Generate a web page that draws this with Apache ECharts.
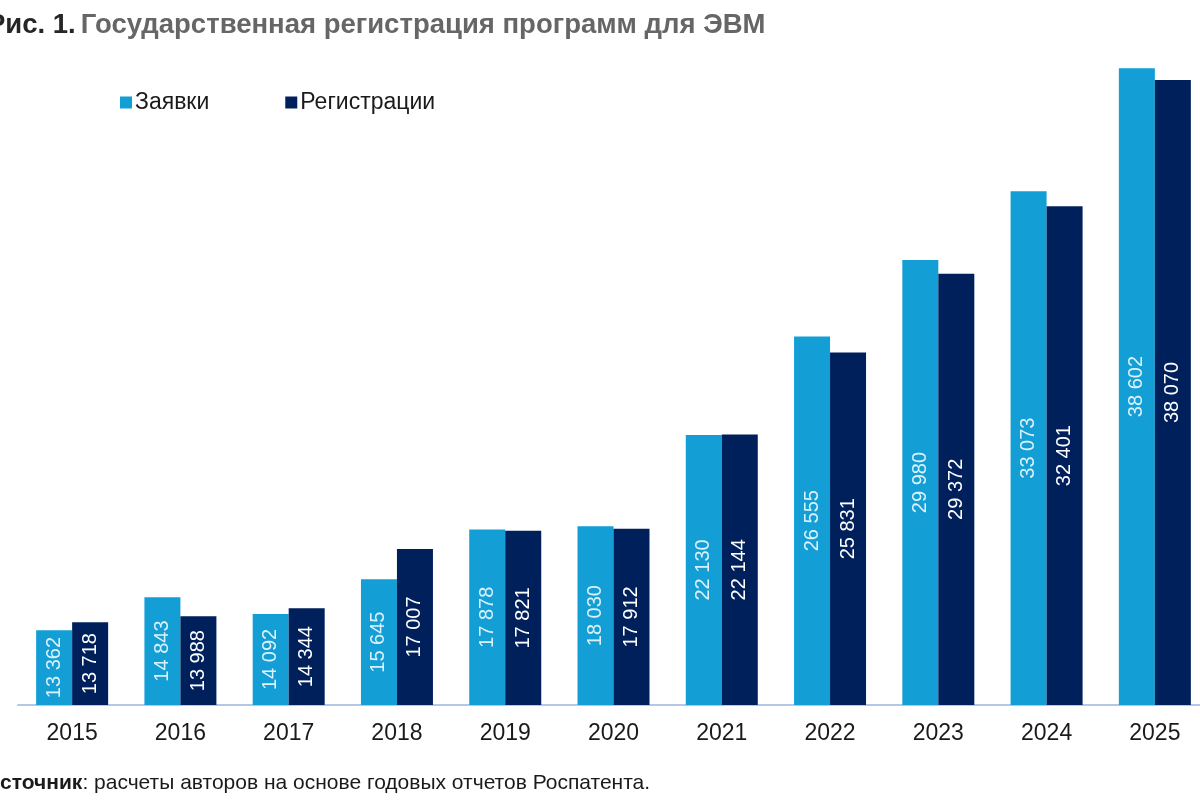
<!DOCTYPE html>
<html>
<head>
<meta charset="utf-8">
<script src="https://cdn.jsdelivr.net/npm/echarts@6/dist/echarts.min.js"></script>
<style>
  html, body { margin: 0; padding: 0; background: #fff; overflow: hidden; }
  #main { width: 1210px; height: 800px; }
</style>
</head>
<body>
<div id="main"></div>
<script>
var years = ['2015', '2016', '2017', '2018', '2019', '2020', '2021', '2022', '2023', '2024', '2025'];
var zayavki = [13362, 14843, 14092, 15645, 17878, 18030, 22130, 26555, 29980, 33073, 38602];
var registracii = [13718, 13988, 14344, 17007, 17821, 17912, 22144, 25831, 29372, 32401, 38070];

// формат числа с пробелом между тысячами
function fmt(v) {
  return String(v).replace(/\B(?=(\d{3})+(?!\d))/g, ' ');
}

var chart = echarts.init(document.getElementById('main'));
var font = 'Liberation Sans, Arial, sans-serif';

chart.setOption({
  animation: false,
  textStyle: { fontFamily: font },
  title: [{
    left: -18,
    top: 6,
    text: '{a|Рис. 1.} {b|Государственная регистрация программ для ЭВМ}',
    textStyle: {
      rich: {
        a: { fontSize: 27.5, fontWeight: 'bold', color: '#262626', fontFamily: font },
        b: { fontSize: 27.5, fontWeight: 'bold', color: '#666666', fontFamily: font }
      }
    }
  }, {
    left: -20,
    top: 768,
    text: '{a|Источник}{b|: расчеты авторов на основе годовых отчетов Роспатента.}',
    textStyle: {
      rich: {
        a: { fontSize: 21, fontWeight: 'bold', color: '#1a1a1a', fontFamily: font },
        b: { fontSize: 21, fontWeight: 'normal', color: '#1a1a1a', fontFamily: font }
      }
    }
  }],
  legend: {
    left: 115,
    top: 86,
    itemWidth: 12,
    itemHeight: 12,
    itemGap: 76,
    icon: 'rect',
    textStyle: { fontSize: 23, color: '#1a1a1a', padding: [0, 0, 0, -2] },
    data: ['Заявки', 'Регистрации']
  },
  grid: { left: 18, right: 1, top: 37, bottom: 95, containLabel: false },
  xAxis: {
    type: 'category',
    data: years,
    axisTick: { show: false },
    axisLine: { lineStyle: { color: '#b4c7e7', width: 2 } },
    axisLabel: { fontSize: 23, color: '#1a1a1a', margin: 17 }
  },
  yAxis: {
    type: 'value',
    min: 10000,
    max: 40000,
    show: false,
    splitLine: { show: false }
  },
  series: [{
    name: 'Заявки',
    type: 'bar',
    data: zayavki,
    barGap: 0,
    barCategoryGap: '33.5%',
    itemStyle: { color: '#139fd6' },
    label: {
      show: true,
      position: 'inside',
      rotate: 90,
      fontSize: 20,
      color: '#dcf2fb',
      formatter: function (p) { return fmt(p.value); }
    }
  }, {
    name: 'Регистрации',
    type: 'bar',
    data: registracii,
    itemStyle: { color: '#00205b' },
    label: {
      show: true,
      position: 'inside',
      rotate: 90,
      fontSize: 20,
      color: '#ffffff',
      formatter: function (p) { return fmt(p.value); }
    }
  }]
});
</script>
</body>
</html>
